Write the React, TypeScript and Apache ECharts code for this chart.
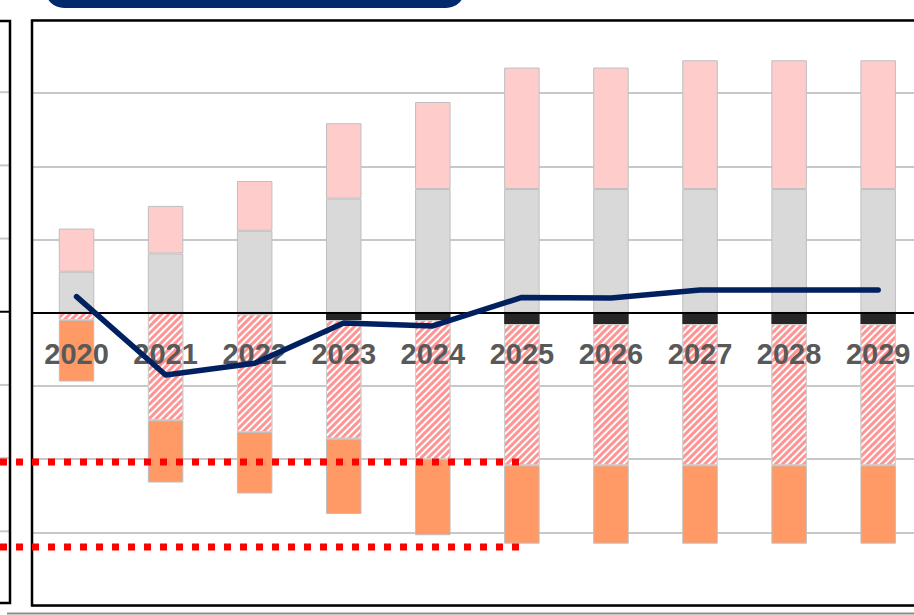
import React, { useEffect, useRef } from "react";
import * as echarts from "echarts";

// Fiscal years on the category axis
const years = ["2020", "2021", "2022", "2023", "2024", "2025", "2026", "2027", "2028", "2029"];

// Upward stack
const baseValues = [0.56, 0.81, 1.12, 1.56, 1.69, 1.69, 1.69, 1.69, 1.69, 1.69];
const upperValues = [0.59, 0.65, 0.68, 1.03, 1.19, 1.66, 1.66, 1.76, 1.76, 1.76];

// Downward stack (nearest to zero first)
const fixedValues = [0, 0, -0.02, -0.1, -0.1, -0.155, -0.155, -0.155, -0.155, -0.155];
const hatchedValues = [-0.1, -1.47, -1.61, -1.62, -1.9, -1.93, -1.93, -1.93, -1.93, -1.93];
const lowerValues = [-0.84, -0.85, -0.84, -1.03, -1.04, -1.07, -1.07, -1.07, -1.07, -1.07];

// Net balance line
const netValues = [0.22, -0.85, -0.69, -0.14, -0.18, 0.21, 0.2, 0.31, 0.31, 0.31];

// Dotted reference levels, drawn up to this year
const refLevels = [-2.04, -3.2];
const refEndYear = "2025";

// Value axis range
const yMin = -4;
const yMax = 4;
const yStep = 1;

const GRID_LEFT = 32;
const GRID_TOP = 20;
const GRID_WIDTH = 890.7;
const GRID_HEIGHT = 585.5;
const BORDER = "#BFBFBF";

export default function App() {
  const ref = useRef<HTMLDivElement>(null);

  useEffect(() => {
    if (!ref.current) return;
    const chart = echarts.init(ref.current, null, { renderer: "svg" });

    const barCommon = {
      type: "bar" as const,
      stack: "total",
      barWidth: 35.5,
      z: 2,
      emphasis: { disabled: true },
    };

    // the category axis sits on the zero level of the value axis
    const zeroOffset = -GRID_HEIGHT * (0 - yMin) / (yMax - yMin);

    chart.setOption({
      animation: false,
      backgroundColor: "#ffffff",
      grid: {
        left: GRID_LEFT,
        top: GRID_TOP,
        width: GRID_WIDTH,
        height: GRID_HEIGHT,
        containLabel: false,
        outerBoundsMode: "none",
      },
      xAxis: {
        type: "category",
        data: years,
        z: 3,
        position: "bottom",
        offset: zeroOffset,
        axisTick: { show: false },
        axisLine: { onZero: false, lineStyle: { color: "#000000", width: 2 } },
        axisLabel: {
          margin: 27,
          fontSize: 29,
          fontWeight: "bold",
          color: "#595959",
          fontFamily: "Liberation Sans, Arial, sans-serif",
        },
        splitLine: { show: false },
      },
      yAxis: {
        type: "value",
        min: yMin,
        max: yMax,
        interval: yStep,
        axisLabel: { show: false },
        axisLine: { show: false },
        axisTick: { show: false },
        splitLine: { lineStyle: { color: "#C8C8C8", width: 2 } },
      },
      series: [
        {
          ...barCommon,
          name: "base",
          data: baseValues,
          itemStyle: { color: "#D9D9D9", borderColor: BORDER, borderWidth: 1 },
        },
        {
          ...barCommon,
          name: "upper",
          data: upperValues,
          itemStyle: { color: "#FFCCCC", borderColor: BORDER, borderWidth: 1 },
        },
        {
          ...barCommon,
          name: "fixed",
          data: fixedValues,
          itemStyle: { color: "#262626", borderWidth: 0 },
        },
        {
          ...barCommon,
          name: "hatched",
          data: hatchedValues,
          itemStyle: {
            color: "#FFFFFF",
            borderColor: "#D0D0D0",
            borderWidth: 1,
            decal: {
              symbol: "rect",
              symbolSize: 1,
              color: "#FF9494",
              dashArrayX: [1, 0],
              dashArrayY: [2.5, 1.5],
              rotation: -Math.PI / 4,
            },
          },
        },
        {
          ...barCommon,
          name: "lower",
          data: lowerValues,
          itemStyle: { color: "#FF9966", borderColor: BORDER, borderWidth: 1 },
        },
        {
          type: "line",
          name: "net",
          data: netValues,
          z: 4,
          symbol: "none",
          lineStyle: { color: "#002060", width: 5.5, cap: "round", join: "round" },
          emphasis: { disabled: true },
        },
      ],
    });

    // Decorations outside the plot: frames, side panel, reference lines, header tab
    const yPix = (v: number) => chart.convertToPixel({ yAxisIndex: 0 }, v) as number;
    const xEnd = chart.convertToPixel({ xAxisIndex: 0 }, refEndYear) as number;

    const graphics: any[] = [];

    // plot frame, drawn above the outermost grid lines
    graphics.push({
      type: "rect",
      z: 9,
      shape: { x: GRID_LEFT, y: GRID_TOP + 0.5, width: GRID_WIDTH, height: GRID_HEIGHT - 0.5 },
      style: { fill: "none", stroke: "#000000", lineWidth: 2.5 },
    });

    // side panel frame with its own grid lines
    for (let v = yMin + yStep; v < yMax; v += yStep) {
      graphics.push({
        type: "line",
        z: 1,
        shape: { x1: 0, y1: yPix(v) - 1, x2: 10, y2: yPix(v) - 1 },
        style: { stroke: v === 0 ? "#000000" : "#C8C8C8", lineWidth: 2 },
      });
    }
    graphics.push({
      type: "rect",
      z: 1,
      shape: { x: -20, y: 21, width: 30, height: 582 },
      style: { fill: "none", stroke: "#000000", lineWidth: 2.5 },
    });

    // red dotted reference lines
    refLevels.forEach((lv) => {
      graphics.push({
        type: "line",
        z: 10,
        shape: { x1: 0, y1: yPix(lv), x2: xEnd, y2: yPix(lv) },
        style: { stroke: "#FF0000", lineWidth: 7, lineDash: [7, 9], lineCap: "butt" },
      });
    });

    // header tab
    graphics.push({
      type: "rect",
      z: 10,
      shape: { x: 45, y: -30, width: 420, height: 38, r: 20 },
      style: { fill: "#002A6C" },
    });

    // bottom rule
    graphics.push({
      type: "line",
      z: 10,
      shape: { x1: 7, y1: 613.5, x2: 914, y2: 613.5 },
      style: { stroke: "#8C8C8C", lineWidth: 2 },
    });

    chart.setOption({ graphic: graphics });

    return () => chart.dispose();
  }, []);

  return (
    <div
      ref={ref}
      style={{ position: "fixed", left: 0, top: 0, width: 914, height: 615, overflow: "hidden" }}
    />
  );
}
